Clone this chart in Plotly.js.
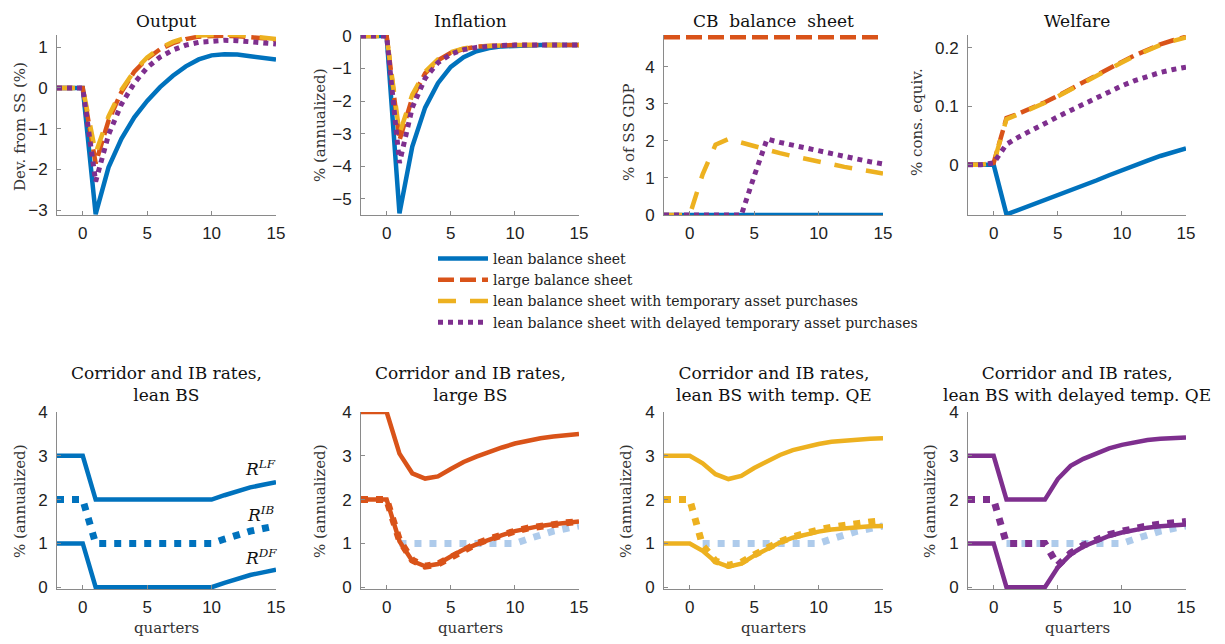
<!DOCTYPE html>
<html><head><meta charset="utf-8">
<script src="https://cdn.plot.ly/plotly-3.0.1.min.js"></script>
<style>html,body{margin:0;padding:0;background:#fff}#chart{width:1225px;height:644px}</style>
</head><body><div id="chart"></div>
<script>
// ---------- data ----------
const quarters = [-2,-1,0,1,2,3,4,5,6,7,8,9,10,11,12,13,14,15];
const scenarioNames = [
  'lean balance sheet',
  'large balance sheet',
  'lean balance sheet with temporary asset purchases',
  'lean balance sheet with delayed temporary asset purchases'
];
const topTitles = ['Output','Inflation','CB\u00a0 balance\u00a0 sheet','Welfare'];
const topYTitles = ['Dev. from SS (%)','% (annualized)','% of SS GDP','% cons. equiv.'];
const bottomTitles = [
  'Corridor and IB rates,<br>lean BS',
  'Corridor and IB rates,<br>large BS',
  'Corridor and IB rates,<br>lean BS with temp. QE',
  'Corridor and IB rates,<br>lean BS with delayed temp. QE'
];
const rateLabels = ['<i>R</i><sup><i>LF</i></sup>','<i>R</i><sup><i>IB</i></sup>','<i>R</i><sup><i>DF</i></sup>'];

// Output
const outputLean    = [0,0,0,-3.1,-1.95,-1.25,-0.72,-0.32,0.02,0.3,0.53,0.7,0.8,0.83,0.82,0.78,0.74,0.7];
const outputLarge   = [0,0,0,-1.85,-0.8,-0.1,0.4,0.72,0.95,1.1,1.2,1.26,1.28,1.28,1.27,1.25,1.22,1.18];
const outputTemp    = [0,0,0,-1.6,-0.7,-0.05,0.42,0.75,0.98,1.13,1.23,1.29,1.31,1.31,1.3,1.27,1.24,1.2];
const outputDelayed = [0,0,0,-2.3,-1.15,-0.4,0.12,0.5,0.76,0.93,1.05,1.12,1.16,1.17,1.16,1.14,1.11,1.08];
// Inflation
const inflLean    = [0,0,0,-5.45,-3.4,-2.2,-1.45,-0.95,-0.65,-0.47,-0.37,-0.32,-0.3,-0.29,-0.28,-0.28,-0.28,-0.28];
const inflLarge   = [0,0,0,-3.2,-1.9,-1.15,-0.75,-0.52,-0.4,-0.33,-0.3,-0.29,-0.28,-0.28,-0.28,-0.28,-0.28,-0.28];
const inflTemp    = [0,0,0,-3.0,-1.8,-1.1,-0.72,-0.5,-0.38,-0.32,-0.3,-0.28,-0.28,-0.28,-0.28,-0.28,-0.28,-0.28];
const inflDelayed = [0,0,0,-3.9,-2.2,-1.3,-0.82,-0.56,-0.42,-0.35,-0.31,-0.29,-0.28,-0.28,-0.28,-0.28,-0.28,-0.28];
// CB balance sheet
const cbLean    = [0,0,0,0,0,0,0,0,0,0,0,0,0,0,0,0,0,0];
const cbLarge   = [4.8,4.8,4.8,4.8,4.8,4.8,4.8,4.8,4.8,4.8,4.8,4.8,4.8,4.8,4.8,4.8,4.8,4.8];
const cbTemp    = [0,0,0,1.1,1.9,2.05,1.95,1.85,1.76,1.67,1.59,1.51,1.44,1.37,1.3,1.24,1.18,1.12];
const cbDelayed = [0,0,0,0,0,0,0,1.05,2.05,1.96,1.88,1.8,1.72,1.65,1.58,1.51,1.44,1.38];
// Welfare
const welfLean    = [0,0,0,-0.085,-0.077,-0.069,-0.06,-0.052,-0.044,-0.036,-0.027,-0.018,-0.009,-0.001,0.007,0.015,0.022,0.028];
const welfLarge   = [0,0,0.003,0.08,0.088,0.097,0.107,0.118,0.13,0.142,0.154,0.165,0.176,0.187,0.197,0.206,0.213,0.219];
const welfTemp    = [0,0,0.003,0.078,0.087,0.096,0.106,0.117,0.129,0.141,0.153,0.164,0.175,0.186,0.196,0.205,0.212,0.218];
const welfDelayed = [0,0,0.003,0.035,0.048,0.06,0.071,0.082,0.093,0.104,0.115,0.125,0.135,0.144,0.152,0.158,0.163,0.167];
// Corridor and IB rates: lean BS
const lfLean = [3,3,3,2,2,2,2,2,2,2,2,2,2,2.1,2.2,2.28,2.34,2.4];
const ibLean = [2,2,2,1,1,1,1,1,1,1,1,1,1,1.1,1.2,1.28,1.34,1.4];
const dfLean = [1,1,1,0,0,0,0,0,0,0,0,0,0,0.1,0.2,0.28,0.34,0.4];
// large BS
const lfLarge = [4,4,4,3.05,2.6,2.48,2.53,2.7,2.86,2.98,3.09,3.19,3.28,3.35,3.4,3.44,3.47,3.5];
const ibLarge = [2,2,2,1.07,0.62,0.48,0.53,0.68,0.85,0.99,1.1,1.2,1.28,1.35,1.4,1.44,1.47,1.5];
const dfLarge = [2,2,2,1.05,0.6,0.48,0.53,0.7,0.86,0.98,1.09,1.19,1.28,1.35,1.4,1.44,1.47,1.5];
// lean BS with temp. QE
const lfTemp = [3,3,3,2.83,2.58,2.47,2.54,2.72,2.88,3.02,3.13,3.21,3.27,3.32,3.35,3.37,3.39,3.4];
const ibTemp = [2,2,2,0.95,0.6,0.5,0.57,0.74,0.9,1.04,1.15,1.24,1.31,1.37,1.42,1.46,1.49,1.52];
const dfTemp = [1,1,1,0.83,0.58,0.47,0.54,0.72,0.88,1.02,1.13,1.21,1.27,1.32,1.35,1.37,1.39,1.4];
// lean BS with delayed temp. QE
const lfDelayed = [3,3,3,2,2,2,2,2.47,2.77,2.93,3.06,3.17,3.25,3.31,3.36,3.39,3.41,3.42];
const ibDelayed = [2,2,2,1,1,1,1,0.5,0.78,0.96,1.1,1.2,1.28,1.35,1.4,1.44,1.47,1.5];
const dfDelayed = [1,1,1,0,0,0,0,0.45,0.75,0.93,1.06,1.17,1.25,1.31,1.36,1.39,1.41,1.43];

// ---------- styles ----------
const C = {lean:'#0072BD', large:'#D95319', temp:'#EDB120', delayed:'#7E2F8E', ref:'#AECBEB'};
const topStyles = [
  {color:C.lean, dash:'solid', width:4.5},
  {color:C.large, dash:'16px,6px', width:4.5},
  {color:C.temp, dash:'18px,14px', width:4.5},
  {color:C.delayed, dash:'5px,5px', width:5}
];
const SERIF = '"DejaVu Serif", "Liberation Serif", serif';
const SANS = '"Liberation Sans", Arial, sans-serif';
const W = 1225, H = 644;
const colPx = [[57,276],[361,579],[664,883],[968,1186]];
const topRowPx = [35,215];
const botRowPx = [412,589];
const topRanges = [[-3.12,1.3],[-5.5,0.03],[0,4.86],[-0.086,0.222]];
const topTicks = [[-3,-2,-1,0,1],[-5,-4,-3,-2,-1,0],[0,1,2,3,4],[0,0.1,0.2]];

const topData = [
  [outputLean, outputLarge, outputTemp, outputDelayed],
  [inflLean, inflLarge, inflTemp, inflDelayed],
  [cbLean, cbLarge, cbTemp, cbDelayed],
  [welfLean, welfLarge, welfTemp, welfDelayed]
];
const botData = [
  {color:C.lean, lf:lfLean, ib:ibLean, df:dfLean, ref:false},
  {color:C.large, lf:lfLarge, ib:ibLarge, df:dfLarge, ref:true},
  {color:C.temp, lf:lfTemp, ib:ibTemp, df:dfTemp, ref:true},
  {color:C.delayed, lf:lfDelayed, ib:ibDelayed, df:dfDelayed, ref:true}
];

const traces = [];
const layout = {
  width:W, height:H, margin:{l:0,r:0,t:0,b:0},
  paper_bgcolor:'#fff', plot_bgcolor:'#fff',
  showlegend:true,
  legend:{x:433/W, y:1-243/H, xanchor:'left', yanchor:'top', font:{family:SERIF, size:14, color:'#222'},
          bgcolor:'rgba(0,0,0,0)', borderwidth:0, itemwidth:50, tracegroupgap:0},
  annotations:[]
};

function axisBase(){
  return {showline:true, linecolor:'#8a8a8a', linewidth:1, ticks:'inside', ticklen:4, tickcolor:'#8a8a8a',
          zeroline:false, showgrid:false, tickfont:{family:SANS, size:17, color:'#222'}, fixedrange:true};
}

for (let c=0;c<4;c++){
  // top row
  const ai = c+1;
  const xs = ai===1?'':ai, ys = ai===1?'':ai;
  topData[c].forEach((arr,k)=>{
    traces.push({x:quarters, y:arr, type:'scatter', mode:'lines', name:scenarioNames[k],
      xaxis:'x'+xs, yaxis:'y'+ys, showlegend:c===0, legendrank:k+1,
      line:{color:topStyles[k].color, dash:topStyles[k].dash, width:topStyles[k].width}, hoverinfo:'skip'});
  });
  layout['xaxis'+xs] = Object.assign(axisBase(), {domain:[colPx[c][0]/W, colPx[c][1]/W], range:[-2,15], tickvals:[0,5,10,15], anchor:'y'+ys, ticklabelstandoff:3});
  layout['yaxis'+ys] = Object.assign(axisBase(), {domain:[1-topRowPx[1]/H, 1-topRowPx[0]/H], range:topRanges[c], tickvals:topTicks[c], anchor:'x'+xs, ticklabelstandoff:5});

  // bottom row
  const bi = c+5;
  const b = botData[c];
  if (b.ref){
    traces.push({x:quarters.slice(3), y:ibLean.slice(3), type:'scatter', mode:'lines', showlegend:false,
      xaxis:'x'+bi, yaxis:'y'+bi, line:{color:C.ref, dash:'7px,8px', width:7}, hoverinfo:'skip'});
  }
  traces.push({x:quarters, y:b.lf, type:'scatter', mode:'lines', showlegend:false, xaxis:'x'+bi, yaxis:'y'+bi,
    line:{color:b.color, width:4.5}, hoverinfo:'skip'});
  traces.push({x:quarters, y:b.df, type:'scatter', mode:'lines', showlegend:false, xaxis:'x'+bi, yaxis:'y'+bi,
    line:{color:b.color, width:4.5}, hoverinfo:'skip'});
  traces.push({x:quarters, y:b.ib, type:'scatter', mode:'lines', showlegend:false, xaxis:'x'+bi, yaxis:'y'+bi,
    line:{color:b.color, dash:'7px,8px', width:7}, hoverinfo:'skip'});
  layout['xaxis'+bi] = Object.assign(axisBase(), {domain:[colPx[c][0]/W, colPx[c][1]/W], range:[-2,15], tickvals:[0,5,10,15], anchor:'y'+bi, ticklabelstandoff:3});
  layout['yaxis'+bi] = Object.assign(axisBase(), {domain:[1-botRowPx[1]/H, 1-botRowPx[0]/H], range:[-0.04,4], tickvals:[0,1,2,3,4], anchor:'x'+bi, ticklabelstandoff:5});

  const cx = (colPx[c][0]+colPx[c][1])/2/W;
  // titles
  layout.annotations.push({text:topTitles[c], xref:'paper', yref:'paper', x:cx, y:1-21/H, xanchor:'center', yanchor:'middle',
    showarrow:false, font:{family:SERIF, size:17, color:'#111'}});
  layout.annotations.push({text:bottomTitles[c], xref:'paper', yref:'paper', x:cx, y:1-384/H, xanchor:'center', yanchor:'middle',
    showarrow:false, font:{family:SERIF, size:17, color:'#111'}});
  // y titles
  const topYx = [20,320,629,917][c];
  const topYy = [127,125,132,122][c];
  layout.annotations.push({text:topYTitles[c], xref:'paper', yref:'paper', x:topYx/W, y:1-topYy/H, xanchor:'center', yanchor:'middle',
    textangle:-90, showarrow:false, font:{family:SERIF, size:15, color:'#333'}});
  const botYx = [20,320,626,930][c];
  layout.annotations.push({text:'% (annualized)', xref:'paper', yref:'paper', x:botYx/W, y:1-501/H, xanchor:'center', yanchor:'middle',
    textangle:-90, showarrow:false, font:{family:SERIF, size:15, color:'#333'}});
  // x titles
  layout.annotations.push({text:'quarters', xref:'paper', yref:'paper', x:cx, y:1-628/H, xanchor:'center', yanchor:'middle',
    showarrow:false, font:{family:SERIF, size:15, color:'#333'}});
}
// rate labels in the lean BS panel
const rateLabelY = [2.72, 1.68, 0.68];
rateLabels.forEach((t,i)=>{
  layout.annotations.push({text:t, xref:'x5', yref:'y5', x:13.8, y:rateLabelY[i], xanchor:'center', yanchor:'middle',
    showarrow:false, font:{family:SERIF, size:17, color:'#111'}});
});

Plotly.newPlot('chart', traces, layout, {staticPlot:true, displayModeBar:false});
</script></body></html>
